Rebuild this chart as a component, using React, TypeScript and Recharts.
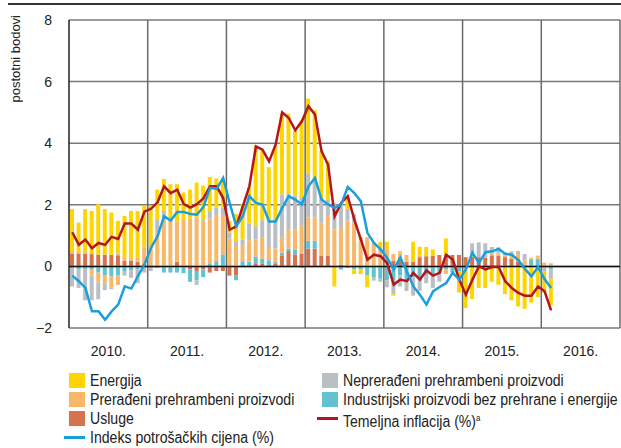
import React from 'react';
import { ComposedChart, Bar, Line, XAxis, YAxis, CartesianGrid, ReferenceLine } from 'recharts';

const months = [
  'I.10','II.10','III.10','IV.10','V.10','VI.10','VII.10','VIII.10','IX.10','X.10','XI.10','XII.10',
  'I.11','II.11','III.11','IV.11','V.11','VI.11','VII.11','VIII.11','IX.11','X.11','XI.11','XII.11',
  'I.12','II.12','III.12','IV.12','V.12','VI.12','VII.12','VIII.12','IX.12','X.12','XI.12','XII.12',
  'I.13','II.13','III.13','IV.13','V.13','VI.13','VII.13','VIII.13','IX.13','X.13','XI.13','XII.13',
  'I.14','II.14','III.14','IV.14','V.14','VI.14','VII.14','VIII.14','IX.14','X.14','XI.14','XII.14',
  'I.15','II.15','III.15','IV.15','V.15','VI.15','VII.15','VIII.15','IX.15','X.15','XI.15','XII.15',
  'I.16','II.16',
];

// Usluge
const usluge = [
  0.42, 0.42, 0.42, 0.40, 0.38, 0.38, 0.38, 0.36, 0.18, 0.18, 0.15, 0.10,
  0, 0, 0, 0, 0.15, 0, -0.10, -0.15, -0.10, -0.20, -0.15, -0.15,
  -0.30, -0.30, 0, 0, 0.10, 0.10, 0.05, 0.10, 0.34, 0.50, 0.39, 0.42,
  0.58, 0.58, 0.34, 0.34, 0, 0.05, 0, 0, 0, 0, 0, 0,
  0, 0.18, 0.20, 0.15, 0.15, 0.30, 0.33, 0.35, 0.37, 0.37, 0.37, 0.37,
  0.30, 0.30, 0.30, 0.28, 0.36, 0.34, 0.30, 0.25, 0.15, 0, 0, 0,
  0, 0,
];
// Industrijski proizvodi bez prehrane i energije
const industrijski = [
  -0.05, -0.10, -0.10, -0.10, -0.20, -0.30, -0.33, -0.30, -0.15, -0.12, -0.10, -0.05,
  -0.05, -0.05, -0.20, -0.20, -0.20, -0.22, -0.40, -0.30, -0.25, 0.10, 0.17, 0.39,
  0, -0.15, 0.17, 0.15, 0.22, 0.15, 0.15, 0.05, 0.10, 0.08, 0.16, -0.05,
  0.25, 0.25, 0, 0, -0.05, -0.10, -0.05, -0.10, -0.10, -0.30, -0.36, -0.40,
  -0.45, -0.47, -0.30, -0.45, -0.35, -0.40, -0.30, -0.30, -0.20, -0.10, -0.20, -0.15,
  -0.10, 0, 0, 0, 0, 0, -0.05, 0, 0, 0.05, 0.23, 0.25,
  0, -0.10,
];
// Prerađeni prehrambeni proizvodi
const preradjeni = [
  0.08, 0.05, 0.05, -0.20, -0.32, -0.27, -0.36, -0.30, 0.10, 0.10, 0.15, 0.55,
  0.60, 1.10, 1.53, 1.45, 1.30, 1.53, 1.55, 1.58, 1.45, 1.45, 1.47, 1.25,
  0.90, 0.66, 0.50, 0.70, 0.55, 0.70, 0.40, 0.43, 0.49, 0.63, 0.65, 0.90,
  0.76, 0.76, 1.08, 1.30, 1.20, 1.20, 1.49, 1.43, 0.95, 0.95, 0.78, 0.62,
  0.56, 0.22, 0.25, 0.22, 0, 0.05, 0, 0, 0, -0.15, 0, 0,
  0, 0.05, 0, 0, 0.05, 0.08, 0.05, 0.14, 0.25, 0.15, 0.05, 0.10,
  0.12, 0.10,
];
// Neprerađeni prehrambeni proizvodi
const nepreradjeni = [
  -0.60, -0.60, -1.00, -0.80, -0.55, -0.20, -0.05, 0.05, -0.15, -0.25, -0.45, -0.15,
  -0.10, 0.43, 0.27, 0.10, 0, 0, 0, -0.15, 0.08, 0.25, 0.27, 0.27,
  0.20, 0.16, 0.20, 0.54, 0.43, 0.55, 0.85, 0.92, 1.41, 1.14, 1.09, 0.90,
  1.41, 1.20, 0.80, 0.54, 0.85, 0.80, 0.38, 0.27, 0, 0, -0.10, -0.10,
  -0.23, -0.43, -0.35, -0.35, -0.60, -0.40, -0.25, -0.40, -0.30, 0, 0, 0,
  0, 0.40, 0.48, 0.47, 0.22, 0.20, 0.10, 0.10, 0.10, 0.20, 0, 0,
  -0.15, -0.30,
];
// Energija
const energija = [
  1.36, 0.95, 1.39, 1.40, 1.64, 1.48, 1.37, 1.07, 1.36, 1.52, 1.50, 1.32,
  1.37, 0.96, 1.04, 1.12, 1.22, 0.87, 0.94, 1.14, 1.09, 1.10, 0.95, 0.87,
  0.38, 0.88, 1.15, 1.17, 2.62, 2.26, 1.77, 2.42, 2.62, 2.61, 2.12, 2.52,
  2.45, 2.28, 1.54, 1.25, -0.60, 0, 0.33, -0.15, -0.15, -0.38, 0, 0.18,
  0.24, -0.05, 0.05, 0, 0.65, 0.29, 0.30, 0.20, 0, 0.54, 0, -0.70,
  -1.25, -1.06, -0.70, -0.70, -0.50, -0.60, -0.85, -1.10, -1.30, -1.38, -1.18, -1.00,
  -0.70, -0.85,
];
// Temeljna inflacija (%)
const temeljna = [
  1.11, 0.70, 0.87, 0.59, 0.76, 0.70, 0.96, 0.89, 1.39, 1.39, 1.19, 1.78,
  1.87, 2.08, 2.60, 2.38, 2.49, 2.02, 1.91, 2.02, 2.21, 2.60, 2.60, 2.22,
  1.19, 1.30, 1.95, 2.60, 3.90, 3.79, 3.41, 3.95, 5.00, 4.82, 4.42, 4.71,
  5.20, 4.93, 3.74, 3.30, 1.63, 2.06, 2.28, 1.52, 0.87, 0.22, 0.38, 0.33,
  0.11, -0.59, -0.43, -0.48, -0.21, -0.43, -0.13, -0.30, -0.21, 0.38, 0.22, -0.43,
  -0.92, -0.43, 0.00, -0.10, -0.02, -0.02, -0.48, -0.70, -0.86, -0.95, -0.95, -0.65,
  -0.81, -1.43,
];
// Indeks potrošačkih cijena (%)
const ipc = [
  -0.30, -0.48, -0.70, -1.46, -1.46, -1.73, -1.46, -1.24, -0.65, -0.72, -0.32, 0.06,
  0.60, 0.98, 1.63, 1.49, 1.77, 1.77, 1.70, 1.68, 1.93, 2.55, 2.52, 2.87,
  2.06, 1.30, 1.63, 2.28, 2.06, 2.01, 1.46, 1.46, 1.90, 2.28, 2.17, 2.01,
  2.60, 2.87, 2.17, 2.01, 1.90, 2.01, 2.58, 2.38, 2.11, 1.09, 0.76, 0.55,
  0.28, -0.10, 0.28, -0.16, -0.65, -0.92, -1.24, -0.81, -0.67, -0.54, -0.21, -0.43,
  -0.10, 0.44, 0.11, 0.46, 0.49, 0.57, 0.41, 0.38, 0.20, -0.08, -0.32, -0.02,
  -0.41, -0.70,
];

const yearLabels = ['2010.', '2011.', '2012.', '2013.', '2014.', '2015.', '2016.'];
const yearMidTicks = [6, 18, 30, 42, 54, 66, 78];
const yearBoundaries = [12, 24, 36, 48, 60, 72, 84];
const yTicks = [-2, 0, 2, 4, 6, 8];

const C = {
  energija: '#FFD500',
  preradjeni: '#F9B769',
  usluge: '#D5734F',
  nepreradjeni: '#B9BFC4',
  industrijski: '#62C2D0',
  temeljna: '#B3151C',
  ipc: '#1A9FDA',
};

const data = months.map((m, i) => ({
  x: i + 0.5,
  m,
  usluge: usluge[i],
  industrijski: industrijski[i],
  preradjeni: preradjeni[i],
  nepreradjeni: nepreradjeni[i],
  energija: energija[i],
  temeljna: temeljna[i],
  ipc: ipc[i],
}));

const FONT = "'Liberation Sans', Arial, sans-serif";

const fmtY = (v: number) => (v < 0 ? '\u2212' + Math.abs(v) : String(v));

const Swatch = ({ color }: { color: string }) => (
  <span style={{ position: 'absolute', left: 0, top: 2, width: 16, height: 15, background: color }} />
);
const LineMark = ({ color }: { color: string }) => (
  <span style={{ position: 'absolute', left: -5, top: 8, width: 21, height: 3, background: color }} />
);

const legendRow = (top: number, left: number, mark: React.ReactNode, text: React.ReactNode) => (
  <div style={{ position: 'absolute', top, left, height: 19, width: 330 }}>
    {mark}
    <span
      style={{
        position: 'absolute',
        left: 21,
        top: 0,
        lineHeight: '19px',
        fontSize: 16,
        color: '#222',
        whiteSpace: 'nowrap',
        transform: 'scaleX(0.88)',
        transformOrigin: 'left center',
      }}
    >
      {text}
    </span>
  </div>
);

export default function App() {
  return (
    <div style={{ position: 'absolute', left: 0, top: 0, width: 621, height: 448, fontFamily: FONT, background: '#fff', overflow: 'hidden' }}>
      <div style={{ position: 'absolute', left: 8, top: 3, width: 613, height: 2, background: '#333' }} />
      <div
        style={{
          position: 'absolute',
          left: 8,
          top: 15,
          writingMode: 'vertical-rl',
          transform: 'rotate(180deg)',
          fontSize: 13,
          color: '#222',
          lineHeight: '16px',
          whiteSpace: 'nowrap',
        }}
      >
        postotni bodovi
      </div>
      <div style={{ position: 'absolute', left: 0, top: 0 }}>
        <ComposedChart
          width={621}
          height={358}
          data={data}
          stackOffset="sign"
          margin={{ top: 20, right: 1, bottom: 0, left: 0 }}
        >
          <CartesianGrid horizontal vertical={false} stroke="#7a7a7a" strokeWidth={1.5} />
          {yearBoundaries.map((b) => (
            <ReferenceLine key={b} x={b} stroke="#6a6a6a" strokeWidth={1.5} />
          ))}
          <XAxis
            type="number"
            dataKey="x"
            domain={[0, 84]}
            ticks={yearMidTicks}
            tickFormatter={(v: number) => yearLabels[Math.round((v - 6) / 12)]}
            axisLine={false}
            tickLine={false}
            tickSize={0}
            tickMargin={18}
            height={30}
            interval={0}
            tick={{ fontSize: 14, fill: '#222' }}
            allowDataOverflow
          />
          <YAxis
            type="number"
            domain={[-2, 8]}
            ticks={yTicks}
            tickFormatter={fmtY}
            width={69}
            axisLine={{ stroke: '#222', strokeWidth: 1.5 }}
            tickLine={false}
            tickSize={0}
            tickMargin={17}
            tick={{ fontSize: 14, fill: '#222' }}
            interval={0}
          />
          <Bar dataKey="usluge" stackId="s" fill={C.usluge} barSize={4} isAnimationActive={false} />
          <Bar dataKey="industrijski" stackId="s" fill={C.industrijski} barSize={4} isAnimationActive={false} />
          <Bar dataKey="preradjeni" stackId="s" fill={C.preradjeni} barSize={4} isAnimationActive={false} />
          <Bar dataKey="nepreradjeni" stackId="s" fill={C.nepreradjeni} barSize={4} isAnimationActive={false} />
          <Bar dataKey="energija" stackId="s" fill={C.energija} barSize={4} isAnimationActive={false} />
          <ReferenceLine y={0} stroke="#111" strokeWidth={1.5} />
          <Line type="linear" dataKey="temeljna" stroke={C.temeljna} strokeWidth={2.5} dot={false} isAnimationActive={false} />
          <Line type="linear" dataKey="ipc" stroke={C.ipc} strokeWidth={2.5} dot={false} isAnimationActive={false} />
        </ComposedChart>
      </div>
      {legendRow(371, 69, <Swatch color={C.energija} />, 'Energija')}
      {legendRow(390, 69, <Swatch color={C.preradjeni} />, 'Prerađeni prehrambeni proizvodi')}
      {legendRow(409, 69, <Swatch color={C.usluge} />, 'Usluge')}
      {legendRow(428, 69, <LineMark color={C.ipc} />, 'Indeks potrošačkih cijena (%)')}
      {legendRow(371, 322, <Swatch color={C.nepreradjeni} />, 'Neprerađeni prehrambeni proizvodi')}
      {legendRow(390, 322, <Swatch color={C.industrijski} />, 'Industrijski proizvodi bez prehrane i energije')}
      {legendRow(409, 322, <LineMark color={C.temeljna} />, <>Temeljna inflacija (%)<sup style={{ fontSize: 9 }}>a</sup></>)}
    </div>
  );
}
